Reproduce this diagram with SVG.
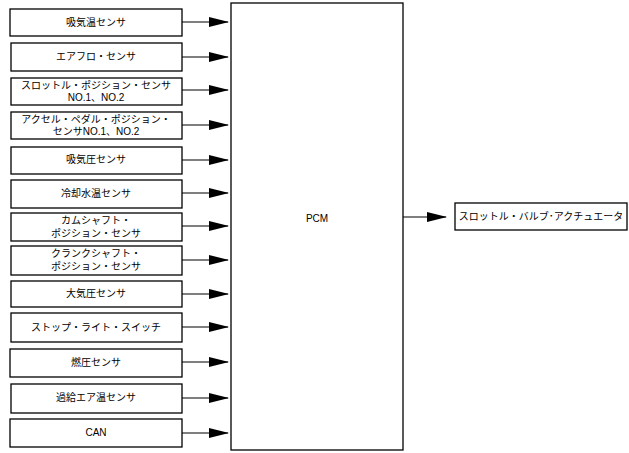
<svg xmlns="http://www.w3.org/2000/svg" width="629" height="453" viewBox="0 0 629 453">
<style>
.n rect{fill:#fff;stroke:#000;stroke-width:1.3}
text{font-family:"Liberation Sans","Noto Sans CJK JP",sans-serif;font-size:10px;fill:#000;text-anchor:middle}
.c line{stroke:#000;stroke-width:1.2}
</style>
<defs>
<marker id="ah" markerWidth="20" markerHeight="10" refX="19" refY="5" orient="auto" markerUnits="userSpaceOnUse">
<path d="M0,0 L20,5 L0,10 Z" fill="#000"/>
</marker>
</defs>
<rect width="629" height="453" fill="#fff"/>
<g class="n" id="pcm"><rect x="231" y="3" width="172" height="447"/><text x="317" y="222">PCM</text></g>
<g class="n" id="n1"><rect x="10" y="9" width="172" height="27"/><text x="96" y="26">吸気温センサ</text></g>
<g class="n" id="n2"><rect x="11" y="43" width="171" height="28"/><text x="96" y="60">エアフロ・センサ</text></g>
<g class="n" id="n3"><rect x="11" y="78" width="171" height="27"/><text x="96" y="89">スロットル・ポジション・センサ</text><text x="96" y="101">NO.1、NO.2</text></g>
<g class="n" id="n4"><rect x="11" y="112" width="171" height="27"/><text x="96" y="123">アクセル・ペダル・ポジション・</text><text x="96" y="135">センサNO.1、NO.2</text></g>
<g class="n" id="n5"><rect x="11" y="147" width="171" height="27"/><text x="96" y="163">吸気圧センサ</text></g>
<g class="n" id="n6"><rect x="11" y="180" width="171" height="28"/><text x="96" y="197">冷却水温センサ</text></g>
<g class="n" id="n7"><rect x="11" y="213" width="171" height="28"/><text x="96" y="224">カムシャフト・</text><text x="96" y="237">ポジション・センサ</text></g>
<g class="n" id="n8"><rect x="11" y="246" width="171" height="29"/><text x="96" y="257">クランクシャフト・</text><text x="96" y="270">ポジション・センサ</text></g>
<g class="n" id="n9"><rect x="11" y="281" width="171" height="26"/><text x="96" y="297">大気圧センサ</text></g>
<g class="n" id="n10"><rect x="11" y="313" width="171" height="29"/><text x="96" y="331">ストップ・ライト・スイッチ</text></g>
<g class="n" id="n11"><rect x="10" y="349" width="172" height="28"/><text x="96" y="366">燃圧センサ</text></g>
<g class="n" id="n12"><rect x="11" y="384" width="171" height="29"/><text x="96" y="401">過給エア温センサ</text></g>
<g class="n" id="n13"><rect x="10" y="419" width="172" height="28"/><text x="96" y="436">CAN</text></g>
<g class="n" id="out"><rect x="455" y="203" width="172" height="27"/><text x="541" y="220">スロットル・バルブ･アクチュエータ</text></g>
<g class="c" id="connectors">
<line x1="182" y1="22" x2="228" y2="22" marker-end="url(#ah)"/>
<line x1="182" y1="57" x2="228" y2="57" marker-end="url(#ah)"/>
<line x1="182" y1="90" x2="228" y2="90" marker-end="url(#ah)"/>
<line x1="182" y1="125" x2="228" y2="125" marker-end="url(#ah)"/>
<line x1="182" y1="160" x2="228" y2="160" marker-end="url(#ah)"/>
<line x1="182" y1="193" x2="228" y2="193" marker-end="url(#ah)"/>
<line x1="182" y1="226" x2="228" y2="226" marker-end="url(#ah)"/>
<line x1="182" y1="260" x2="228" y2="260" marker-end="url(#ah)"/>
<line x1="182" y1="294" x2="228" y2="294" marker-end="url(#ah)"/>
<line x1="182" y1="327" x2="228" y2="327" marker-end="url(#ah)"/>
<line x1="182" y1="362" x2="228" y2="362" marker-end="url(#ah)"/>
<line x1="182" y1="398" x2="228" y2="398" marker-end="url(#ah)"/>
<line x1="182" y1="433" x2="228" y2="433" marker-end="url(#ah)"/>
<line x1="403" y1="217" x2="446" y2="217" marker-end="url(#ah)"/>
</g>
</svg>
